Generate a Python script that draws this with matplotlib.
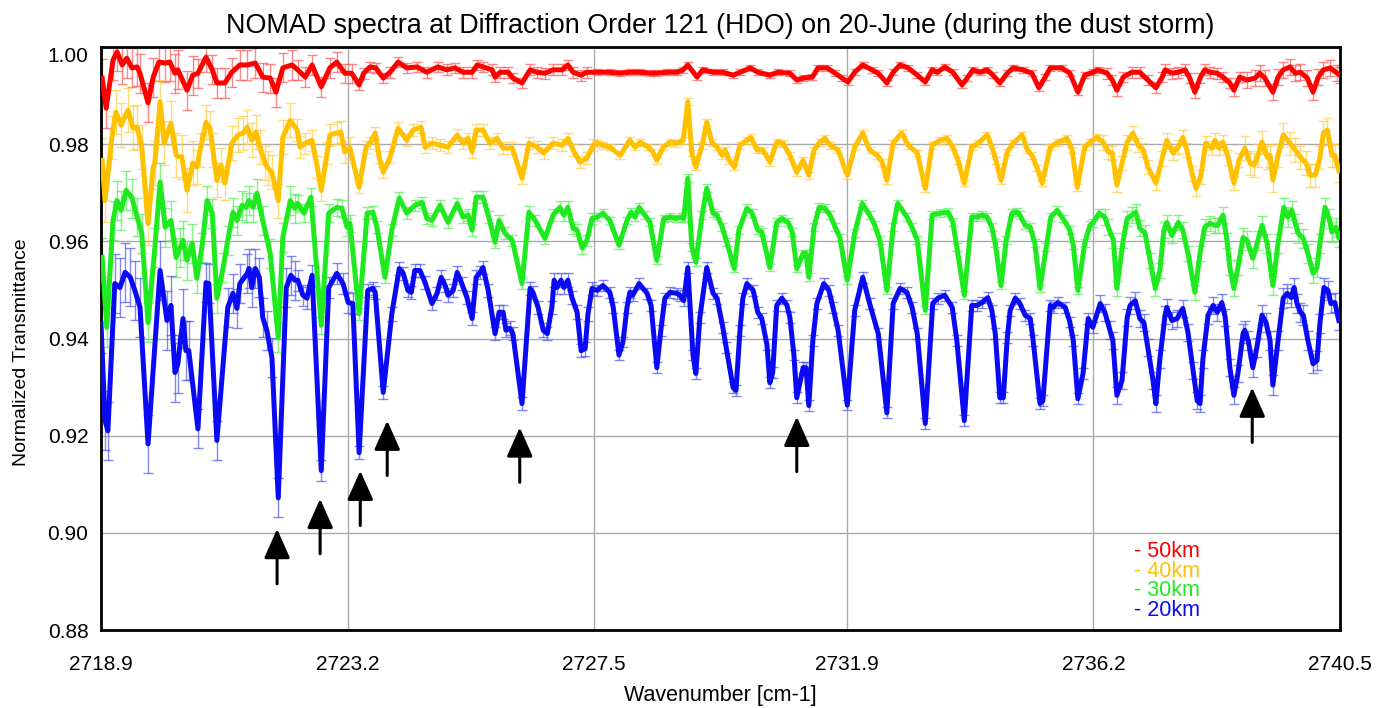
import numpy as np
import matplotlib
matplotlib.use("Agg")
import matplotlib.pyplot as plt

# ---------------- data (wavenumber, normalized transmittance) ----------------
red_pts = [(2718.92,0.9936),(2718.99,0.9874),(2719.11,0.9973),(2719.18,0.9990),(2719.27,0.9963),(2719.35,0.9977),(2719.44,0.9957),(2719.53,0.9959),(2719.58,0.9946),(2719.72,0.9885),(2719.81,0.9938),(2719.91,0.9969),(2720.02,0.9967),(2720.10,0.9969),(2720.19,0.9946),(2720.24,0.9953),(2720.40,0.9911),(2720.50,0.9942),(2720.59,0.9946),(2720.73,0.9979),(2720.84,0.9953),(2720.92,0.9926),(2721.06,0.9926),(2721.18,0.9948),(2721.32,0.9963),(2721.45,0.9963),(2721.59,0.9967),(2721.72,0.9938),(2721.85,0.9936),(2721.95,0.9907),(2722.07,0.9957),(2722.23,0.9963),(2722.33,0.9953),(2722.46,0.9938),(2722.58,0.9963),(2722.74,0.9918),(2722.89,0.9957),(2723.01,0.9969),(2723.15,0.9946),(2723.27,0.9946),(2723.40,0.9922),(2723.48,0.9946),(2723.59,0.9959),(2723.69,0.9957),(2723.82,0.9936),(2723.94,0.9948),(2724.08,0.9969),(2724.23,0.9957),(2724.41,0.9959),(2724.58,0.9948),(2724.77,0.9959),(2724.93,0.9953),(2725.07,0.9957),(2725.21,0.9948),(2725.37,0.9948),(2725.46,0.9963),(2725.56,0.9959),(2725.72,0.9953),(2725.77,0.9938),(2725.86,0.9948),(2726.00,0.9948),(2726.08,0.9936),(2726.24,0.9926),(2726.38,0.9953),(2726.50,0.9948),(2726.64,0.9946),(2726.78,0.9953),(2726.94,0.9953),(2727.04,0.9963),(2727.13,0.9948),(2727.27,0.9942),(2727.37,0.9948),(2727.56,0.9948),(2727.77,0.9948),(2727.95,0.9946),(2728.12,0.9948),(2728.30,0.9948),(2728.47,0.9946),(2728.59,0.9946),(2728.77,0.9948),(2728.94,0.9948),(2729.05,0.9953),(2729.13,0.9963),(2729.29,0.9938),(2729.39,0.9953),(2729.57,0.9948),(2729.74,0.9948),(2729.92,0.9942),(2730.04,0.9948),(2730.22,0.9957),(2730.35,0.9948),(2730.56,0.9942),(2730.70,0.9948),(2730.91,0.9946),(2731.03,0.9932),(2731.14,0.9936),(2731.30,0.9938),(2731.40,0.9957),(2731.56,0.9957),(2731.70,0.9946),(2731.82,0.9936),(2731.92,0.9928),(2732.04,0.9948),(2732.18,0.9963),(2732.34,0.9953),(2732.45,0.9946),(2732.60,0.9926),(2732.71,0.9948),(2732.83,0.9963),(2732.97,0.9957),(2733.13,0.9942),(2733.27,0.9928),(2733.39,0.9953),(2733.48,0.9948),(2733.61,0.9959),(2733.75,0.9948),(2733.91,0.9922),(2734.00,0.9936),(2734.10,0.9953),(2734.22,0.9948),(2734.35,0.9953),(2734.45,0.9942),(2734.57,0.9926),(2734.70,0.9946),(2734.80,0.9957),(2734.97,0.9953),(2735.13,0.9946),(2735.25,0.9916),(2735.36,0.9938),(2735.45,0.9957),(2735.65,0.9957),(2735.79,0.9946),(2735.93,0.9907),(2736.05,0.9942),(2736.19,0.9948),(2736.28,0.9953),(2736.44,0.9946),(2736.53,0.9932),(2736.61,0.9911),(2736.72,0.9938),(2736.87,0.9948),(2737.01,0.9948),(2737.15,0.9932),(2737.29,0.9916),(2737.40,0.9938),(2737.45,0.9953),(2737.57,0.9946),(2737.68,0.9948),(2737.80,0.9953),(2737.88,0.9936),(2737.97,0.9907),(2738.06,0.9936),(2738.14,0.9953),(2738.23,0.9948),(2738.36,0.9946),(2738.46,0.9938),(2738.58,0.9926),(2738.65,0.9911),(2738.75,0.9938),(2738.88,0.9932),(2739.02,0.9936),(2739.10,0.9946),(2739.19,0.9936),(2739.33,0.9907),(2739.42,0.9938),(2739.51,0.9953),(2739.63,0.9959),(2739.72,0.9946),(2739.81,0.9948),(2739.93,0.9936),(2740.03,0.9907),(2740.12,0.9938),(2740.21,0.9953),(2740.33,0.9957),(2740.45,0.9946),(2740.50,0.9942)]

orange_pts = [(2718.92,0.9767),(2718.97,0.9684),(2719.09,0.9814),(2719.16,0.9866),(2719.25,0.9839),(2719.37,0.9870),(2719.46,0.9833),(2719.53,0.9835),(2719.61,0.9794),(2719.72,0.9637),(2719.81,0.9753),(2719.84,0.9761),(2719.93,0.9887),(2720.00,0.9802),(2720.12,0.9843),(2720.21,0.9777),(2720.31,0.9773),(2720.40,0.9705),(2720.50,0.9761),(2720.57,0.9753),(2720.63,0.9788),(2720.73,0.9845),(2720.80,0.9833),(2720.85,0.9788),(2720.92,0.9726),(2720.99,0.9757),(2721.06,0.9720),(2721.18,0.9802),(2721.29,0.9819),(2721.38,0.9823),(2721.45,0.9835),(2721.53,0.9808),(2721.60,0.9825),(2721.67,0.9794),(2721.76,0.9761),(2721.81,0.9751),(2721.88,0.9742),(2721.99,0.9684),(2722.07,0.9814),(2722.20,0.9849),(2722.32,0.9829),(2722.37,0.9794),(2722.46,0.9802),(2722.58,0.9808),(2722.67,0.9753),(2722.74,0.9705),(2722.84,0.9782),(2722.89,0.9819),(2723.01,0.9823),(2723.08,0.9825),(2723.15,0.9784),(2723.24,0.9792),(2723.40,0.9711),(2723.52,0.9794),(2723.59,0.9802),(2723.68,0.9823),(2723.75,0.9773),(2723.82,0.9742),(2723.94,0.9773),(2724.08,0.9833),(2724.23,0.9808),(2724.34,0.9829),(2724.48,0.9835),(2724.55,0.9794),(2724.67,0.9802),(2724.81,0.9798),(2724.95,0.9794),(2725.11,0.9819),(2725.21,0.9802),(2725.30,0.9812),(2725.37,0.9784),(2725.44,0.9829),(2725.56,0.9829),(2725.68,0.9802),(2725.80,0.9812),(2725.91,0.9792),(2726.07,0.9792),(2726.24,0.9730),(2726.36,0.9802),(2726.50,0.9794),(2726.62,0.9782),(2726.78,0.9802),(2726.94,0.9798),(2727.04,0.9812),(2727.13,0.9788),(2727.25,0.9763),(2727.37,0.9771),(2727.48,0.9798),(2727.55,0.9802),(2727.65,0.9798),(2727.77,0.9794),(2727.95,0.9777),(2728.12,0.9808),(2728.21,0.9794),(2728.30,0.9804),(2728.44,0.9794),(2728.52,0.9784),(2728.59,0.9767),(2728.70,0.9794),(2728.82,0.9804),(2728.92,0.9802),(2729.05,0.9808),(2729.13,0.9887),(2729.20,0.9782),(2729.27,0.9753),(2729.38,0.9798),(2729.46,0.9845),(2729.55,0.9804),(2729.64,0.9794),(2729.73,0.9777),(2729.78,0.9788),(2729.85,0.9767),(2729.94,0.9753),(2730.04,0.9798),(2730.16,0.9808),(2730.23,0.9814),(2730.34,0.9788),(2730.44,0.9788),(2730.56,0.9763),(2730.68,0.9804),(2730.79,0.9802),(2730.91,0.9777),(2731.03,0.9742),(2731.14,0.9767),(2731.24,0.9736),(2731.33,0.9788),(2731.43,0.9804),(2731.52,0.9812),(2731.61,0.9798),(2731.75,0.9788),(2731.91,0.9736),(2732.04,0.9794),(2732.18,0.9823),(2732.30,0.9788),(2732.43,0.9777),(2732.52,0.9763),(2732.60,0.9726),(2732.71,0.9802),(2732.86,0.9823),(2732.97,0.9798),(2733.13,0.9782),(2733.27,0.9709),(2733.39,0.9798),(2733.53,0.9808),(2733.65,0.9812),(2733.75,0.9794),(2733.84,0.9767),(2733.95,0.9720),(2734.08,0.9794),(2734.19,0.9802),(2734.35,0.9819),(2734.45,0.9788),(2734.50,0.9767),(2734.59,0.9726),(2734.70,0.9784),(2734.80,0.9802),(2734.96,0.9819),(2735.05,0.9788),(2735.13,0.9777),(2735.22,0.9751),(2735.31,0.9720),(2735.45,0.9794),(2735.58,0.9804),(2735.74,0.9812),(2735.83,0.9788),(2735.92,0.9711),(2736.05,0.9794),(2736.14,0.9804),(2736.26,0.9814),(2736.37,0.9804),(2736.46,0.9784),(2736.53,0.9782),(2736.61,0.9716),(2736.70,0.9761),(2736.79,0.9804),(2736.89,0.9823),(2736.98,0.9798),(2737.07,0.9788),(2737.15,0.9753),(2737.29,0.9720),(2737.40,0.9771),(2737.48,0.9808),(2737.59,0.9782),(2737.68,0.9794),(2737.76,0.9814),(2737.83,0.9788),(2737.92,0.9740),(2737.99,0.9709),(2738.07,0.9732),(2738.16,0.9802),(2738.27,0.9792),(2738.32,0.9808),(2738.39,0.9792),(2738.46,0.9804),(2738.55,0.9773),(2738.65,0.9720),(2738.74,0.9767),(2738.84,0.9792),(2738.93,0.9761),(2739.00,0.9757),(2739.07,0.9777),(2739.14,0.9804),(2739.23,0.9773),(2739.28,0.9777),(2739.33,0.9726),(2739.42,0.9777),(2739.51,0.9819),(2739.63,0.9802),(2739.72,0.9788),(2739.81,0.9773),(2739.91,0.9761),(2739.98,0.9736),(2740.07,0.9736),(2740.15,0.9773),(2740.21,0.9823),(2740.28,0.9829),(2740.36,0.9777),(2740.41,0.9777),(2740.48,0.9746)]

green_pts = [(2718.92,0.9567),(2719.00,0.9423),(2719.11,0.9643),(2719.18,0.9684),(2719.25,0.9664),(2719.34,0.9705),(2719.44,0.9689),(2719.53,0.9650),(2719.61,0.9617),(2719.72,0.9433),(2719.84,0.9588),(2719.93,0.9722),(2720.02,0.9629),(2720.12,0.9643),(2720.21,0.9567),(2720.28,0.9588),(2720.33,0.9602),(2720.40,0.9561),(2720.49,0.9596),(2720.57,0.9524),(2720.66,0.9588),(2720.75,0.9684),(2720.84,0.9658),(2720.92,0.9483),(2721.03,0.9546),(2721.11,0.9602),(2721.20,0.9660),(2721.27,0.9643),(2721.36,0.9674),(2721.43,0.9670),(2721.48,0.9684),(2721.55,0.9670),(2721.62,0.9699),(2721.72,0.9643),(2721.85,0.9575),(2721.99,0.9402),(2722.07,0.9608),(2722.20,0.9684),(2722.28,0.9668),(2722.33,0.9678),(2722.44,0.9658),(2722.56,0.9691),(2722.74,0.9427),(2722.87,0.9658),(2723.01,0.9670),(2723.10,0.9668),(2723.19,0.9629),(2723.24,0.9637),(2723.40,0.9451),(2723.54,0.9658),(2723.64,0.9660),(2723.71,0.9629),(2723.85,0.9526),(2723.97,0.9623),(2724.10,0.9689),(2724.23,0.9658),(2724.37,0.9674),(2724.50,0.9680),(2724.58,0.9647),(2724.67,0.9643),(2724.81,0.9674),(2724.95,0.9639),(2725.11,0.9678),(2725.21,0.9650),(2725.30,0.9654),(2725.37,0.9623),(2725.44,0.9691),(2725.56,0.9691),(2725.66,0.9650),(2725.77,0.9598),(2725.84,0.9643),(2725.94,0.9617),(2726.07,0.9602),(2726.24,0.9513),(2726.36,0.9660),(2726.47,0.9643),(2726.64,0.9606),(2726.78,0.9654),(2726.90,0.9670),(2726.97,0.9654),(2727.04,0.9670),(2727.13,0.9627),(2727.20,0.9623),(2727.29,0.9586),(2727.37,0.9602),(2727.46,0.9647),(2727.55,0.9650),(2727.65,0.9658),(2727.77,0.9643),(2727.93,0.9592),(2728.07,0.9643),(2728.14,0.9660),(2728.21,0.9650),(2728.28,0.9670),(2728.38,0.9654),(2728.47,0.9639),(2728.59,0.9561),(2728.71,0.9647),(2728.82,0.9650),(2728.92,0.9647),(2729.03,0.9650),(2729.06,0.9647),(2729.13,0.9730),(2729.20,0.9588),(2729.27,0.9557),(2729.38,0.9654),(2729.46,0.9709),(2729.57,0.9658),(2729.64,0.9654),(2729.73,0.9629),(2729.81,0.9598),(2729.94,0.9544),(2730.02,0.9623),(2730.16,0.9668),(2730.25,0.9658),(2730.35,0.9623),(2730.42,0.9619),(2730.56,0.9546),(2730.68,0.9639),(2730.77,0.9647),(2730.88,0.9639),(2730.95,0.9619),(2731.03,0.9544),(2731.14,0.9575),(2731.19,0.9575),(2731.24,0.9526),(2731.33,0.9629),(2731.42,0.9670),(2731.52,0.9668),(2731.61,0.9654),(2731.70,0.9629),(2731.78,0.9608),(2731.91,0.9520),(2732.04,0.9617),(2732.17,0.9678),(2732.30,0.9654),(2732.39,0.9633),(2732.48,0.9602),(2732.60,0.9499),(2732.71,0.9629),(2732.79,0.9678),(2732.95,0.9650),(2733.04,0.9629),(2733.13,0.9602),(2733.27,0.9458),(2733.39,0.9654),(2733.53,0.9658),(2733.67,0.9660),(2733.75,0.9639),(2733.82,0.9588),(2733.95,0.9489),(2734.08,0.9650),(2734.17,0.9650),(2734.26,0.9654),(2734.35,0.9650),(2734.43,0.9629),(2734.49,0.9596),(2734.59,0.9509),(2734.68,0.9602),(2734.78,0.9658),(2734.87,0.9660),(2734.92,0.9654),(2735.01,0.9633),(2735.10,0.9629),(2735.18,0.9596),(2735.27,0.9503),(2735.38,0.9588),(2735.46,0.9650),(2735.57,0.9664),(2735.67,0.9647),(2735.79,0.9623),(2735.85,0.9592),(2735.93,0.9499),(2736.05,0.9596),(2736.14,0.9633),(2736.19,0.9637),(2736.30,0.9658),(2736.40,0.9650),(2736.46,0.9629),(2736.55,0.9602),(2736.61,0.9503),(2736.72,0.9602),(2736.79,0.9647),(2736.87,0.9654),(2736.94,0.9660),(2737.01,0.9627),(2737.10,0.9617),(2737.19,0.9561),(2737.28,0.9503),(2737.36,0.9540),(2737.43,0.9623),(2737.48,0.9639),(2737.57,0.9612),(2737.68,0.9639),(2737.76,0.9623),(2737.85,0.9575),(2737.97,0.9495),(2738.06,0.9575),(2738.14,0.9629),(2738.23,0.9637),(2738.32,0.9633),(2738.37,0.9633),(2738.46,0.9654),(2738.53,0.9602),(2738.58,0.9546),(2738.65,0.9503),(2738.72,0.9546),(2738.81,0.9608),(2738.88,0.9602),(2738.98,0.9565),(2739.07,0.9602),(2739.14,0.9633),(2739.23,0.9596),(2739.33,0.9509),(2739.42,0.9596),(2739.52,0.9670),(2739.59,0.9650),(2739.66,0.9664),(2739.72,0.9637),(2739.77,0.9617),(2739.86,0.9606),(2739.94,0.9575),(2740.03,0.9534),(2740.10,0.9546),(2740.15,0.9596),(2740.24,0.9670),(2740.31,0.9647),(2740.36,0.9619),(2740.43,0.9629),(2740.48,0.9608)]

blue_pts = [(2718.90,0.9431),(2718.97,0.9231),(2719.02,0.9210),(2719.14,0.9513),(2719.23,0.9505),(2719.32,0.9536),(2719.41,0.9526),(2719.49,0.9499),(2719.58,0.9464),(2719.72,0.9183),(2719.93,0.9540),(2720.05,0.9437),(2720.12,0.9468),(2720.19,0.9330),(2720.24,0.9348),(2720.33,0.9441),(2720.38,0.9375),(2720.43,0.9375),(2720.59,0.9214),(2720.73,0.9515),(2720.78,0.9513),(2720.92,0.9190),(2721.11,0.9464),(2721.20,0.9493),(2721.27,0.9462),(2721.32,0.9513),(2721.45,0.9534),(2721.48,0.9544),(2721.53,0.9505),(2721.59,0.9544),(2721.66,0.9526),(2721.72,0.9443),(2721.79,0.9417),(2721.88,0.9361),(2721.99,0.9072),(2722.13,0.9505),(2722.21,0.9530),(2722.28,0.9520),(2722.33,0.9520),(2722.42,0.9489),(2722.49,0.9483),(2722.58,0.9530),(2722.74,0.9128),(2722.87,0.9505),(2723.01,0.9534),(2723.12,0.9513),(2723.21,0.9474),(2723.29,0.9472),(2723.40,0.9165),(2723.55,0.9499),(2723.64,0.9503),(2723.68,0.9495),(2723.82,0.9289),(2723.97,0.9451),(2724.10,0.9544),(2724.17,0.9534),(2724.25,0.9499),(2724.31,0.9495),(2724.37,0.9540),(2724.46,0.9540),(2724.55,0.9515),(2724.67,0.9472),(2724.76,0.9493),(2724.83,0.9526),(2724.90,0.9509),(2724.95,0.9489),(2725.04,0.9499),(2725.11,0.9536),(2725.19,0.9513),(2725.28,0.9484),(2725.37,0.9441),(2725.44,0.9526),(2725.51,0.9536),(2725.56,0.9546),(2725.65,0.9499),(2725.77,0.9410),(2725.84,0.9454),(2725.91,0.9454),(2725.96,0.9417),(2726.03,0.9421),(2726.08,0.9410),(2726.24,0.9266),(2726.38,0.9503),(2726.43,0.9495),(2726.52,0.9464),(2726.61,0.9417),(2726.68,0.9410),(2726.76,0.9464),(2726.80,0.9520),(2726.85,0.9505),(2726.92,0.9520),(2726.97,0.9505),(2727.04,0.9520),(2727.11,0.9484),(2727.20,0.9454),(2727.27,0.9375),(2727.34,0.9379),(2727.39,0.9451),(2727.46,0.9503),(2727.55,0.9499),(2727.65,0.9509),(2727.77,0.9495),(2727.83,0.9464),(2727.93,0.9366),(2728.00,0.9393),(2728.07,0.9464),(2728.12,0.9495),(2728.17,0.9489),(2728.28,0.9513),(2728.42,0.9493),(2728.49,0.9468),(2728.59,0.9340),(2728.66,0.9417),(2728.73,0.9483),(2728.82,0.9495),(2728.94,0.9493),(2728.99,0.9489),(2729.06,0.9478),(2729.13,0.9546),(2729.22,0.9366),(2729.27,0.9328),(2729.34,0.9443),(2729.46,0.9546),(2729.57,0.9493),(2729.64,0.9483),(2729.74,0.9423),(2729.80,0.9381),(2729.92,0.9299),(2729.97,0.9293),(2730.04,0.9417),(2730.09,0.9483),(2730.16,0.9513),(2730.27,0.9499),(2730.35,0.9454),(2730.42,0.9441),(2730.51,0.9387),(2730.56,0.9309),(2730.61,0.9330),(2730.68,0.9468),(2730.77,0.9483),(2730.86,0.9468),(2730.91,0.9443),(2730.98,0.9366),(2731.03,0.9278),(2731.14,0.9340),(2731.19,0.9340),(2731.24,0.9262),(2731.31,0.9396),(2731.38,0.9472),(2731.50,0.9513),(2731.59,0.9499),(2731.66,0.9464),(2731.75,0.9417),(2731.91,0.9263),(2732.04,0.9458),(2732.18,0.9526),(2732.30,0.9472),(2732.45,0.9410),(2732.60,0.9247),(2732.71,0.9472),(2732.83,0.9503),(2732.95,0.9495),(2733.04,0.9464),(2733.13,0.9410),(2733.27,0.9225),(2733.40,0.9472),(2733.49,0.9483),(2733.61,0.9489),(2733.74,0.9464),(2733.82,0.9396),(2733.95,0.9231),(2734.08,0.9468),(2734.17,0.9468),(2734.26,0.9474),(2734.36,0.9484),(2734.43,0.9458),(2734.49,0.9410),(2734.57,0.9278),(2734.63,0.9278),(2734.70,0.9402),(2734.75,0.9458),(2734.84,0.9483),(2734.92,0.9472),(2735.01,0.9448),(2735.10,0.9441),(2735.15,0.9396),(2735.27,0.9266),(2735.32,0.9272),(2735.45,0.9468),(2735.50,0.9464),(2735.58,0.9474),(2735.71,0.9464),(2735.79,0.9434),(2735.85,0.9396),(2735.93,0.9276),(2736.02,0.9328),(2736.11,0.9441),(2736.19,0.9423),(2736.32,0.9472),(2736.40,0.9454),(2736.49,0.9417),(2736.54,0.9396),(2736.61,0.9283),(2736.70,0.9314),(2736.79,0.9443),(2736.84,0.9468),(2736.93,0.9478),(2737.01,0.9441),(2737.08,0.9433),(2737.15,0.9381),(2737.24,0.9314),(2737.29,0.9266),(2737.36,0.9358),(2737.45,0.9448),(2737.48,0.9464),(2737.57,0.9437),(2737.66,0.9441),(2737.76,0.9462),(2737.85,0.9412),(2737.94,0.9334),(2738.01,0.9272),(2738.06,0.9266),(2738.11,0.9358),(2738.20,0.9448),(2738.29,0.9468),(2738.36,0.9454),(2738.44,0.9474),(2738.50,0.9443),(2738.58,0.9340),(2738.65,0.9283),(2738.72,0.9328),(2738.81,0.9410),(2738.84,0.9417),(2738.90,0.9396),(2738.98,0.9340),(2739.05,0.9381),(2739.14,0.9448),(2739.21,0.9433),(2739.28,0.9396),(2739.33,0.9304),(2739.42,0.9396),(2739.51,0.9483),(2739.58,0.9493),(2739.65,0.9484),(2739.70,0.9505),(2739.75,0.9472),(2739.81,0.9454),(2739.86,0.9448),(2739.94,0.9396),(2740.03,0.9348),(2740.10,0.9355),(2740.15,0.9431),(2740.22,0.9505),(2740.29,0.9499),(2740.34,0.9472),(2740.41,0.9474),(2740.48,0.9437)]

# error-bar half widths, read per wavenumber band
err_edges = [2720.5, 2722.3, 2723.3, 2727.5, 2736.3, 2738.8]
red_err = [0.0040, 0.0030, 0.0020, 0.0011, 0.0006, 0.0011, 0.0016]
orange_err = [0.0045, 0.0035, 0.0022, 0.0012, 0.0007, 0.0015, 0.0024]
green_err = [0.0040, 0.0030, 0.0018, 0.0012, 0.0008, 0.0016, 0.0020]
blue_err = [0.0060, 0.0040, 0.0022, 0.0014, 0.0011, 0.0018, 0.0020]

series_labels = ["- 50km", "- 40km", "- 30km", "- 20km"]

arrow_x = [2721.97, 2722.72, 2723.42, 2723.89, 2726.20, 2731.03, 2738.97]
arrow_tip = [0.9008, 0.9070, 0.9128, 0.9231, 0.9217, 0.9239, 0.9299]

x_ticks = [2718.9, 2723.2, 2727.5, 2731.9, 2736.2, 2740.5]
y_ticks = [0.88, 0.90, 0.92, 0.94, 0.96, 0.98, 1.00]

title = "NOMAD spectra at Diffraction Order 121 (HDO) on 20-June (during the dust storm)"
xlabel = "Wavenumber [cm-1]"
ylabel = "Normalized Transmittance"

# ---------------- style ----------------
plt.rcParams['font.family'] = ['Liberation Sans', 'DejaVu Sans']
line_colors = ["#FF0000", "#FFC000", "#1FEA1F", "#0A0AF5"]
err_colors = ["#FF5555", "#FFCC44", "#55EE55", "#4A55F5"]
ARROW_LEN = 0.0113

fig = plt.figure(figsize=(13.88, 7.08), dpi=100)
ax = fig.add_axes([101/1388, 1-630/708, (1340-101)/1388, (630-47)/708])

all_pts = [red_pts, orange_pts, green_pts, blue_pts]
all_err = [red_err, orange_err, green_err, blue_err]

for pts, errs, lc, ec in zip(all_pts, all_err, line_colors, err_colors):
    x = np.array([p[0] for p in pts])
    y = np.array([p[1] for p in pts])
    e = np.array(errs)[np.searchsorted(err_edges, x)]
    ax.errorbar(x, y, yerr=e, fmt='none', ecolor=ec, elinewidth=1.0,
                capsize=3.8, capthick=1.0, alpha=0.7, zorder=2)
    ax.plot(x, y, color=lc, lw=3.6, zorder=3, solid_joinstyle='round')

for xa, ya in zip(arrow_x, arrow_tip):
    ax.annotate('', xy=(xa, ya), xytext=(xa, ya - ARROW_LEN),
                arrowprops=dict(arrowstyle='-|>,head_length=0.9,head_width=0.4',
                                mutation_scale=20, lw=2.2, color='black',
                                shrinkA=0, shrinkB=0), zorder=5)

ax.set_xlim(2718.9, 2740.5)
ax.set_ylim(0.88, 1.0)
ax.set_xticks(x_ticks)
ax.set_xticklabels([f"{v:.1f}" for v in x_ticks])
ax.set_yticks(y_ticks)
ax.set_yticklabels([f"{v:.2f}" for v in y_ticks])
ax.grid(True, color='#AAAAAA', lw=1.0)
ax.set_axisbelow(True)
ax.tick_params(axis='both', length=0, labelsize=15)
ax.tick_params(axis='x', pad=18)
ax.tick_params(axis='y', pad=9)
ax.get_yticklabels()[-1].set_verticalalignment('top')
for s in ax.spines.values():
    s.set_linewidth(2.0)
    s.set_color('black')

ax.set_title(title, fontsize=19.4, pad=10)
ax.set_xlabel(xlabel, fontsize=15.5, labelpad=8)
ax.set_ylabel(ylabel, fontsize=14)
ax.yaxis.set_label_coords(-0.057, 0.476)

for i, (lab, col) in enumerate(zip(series_labels, line_colors)):
    ax.text(0.834, 0.134 - i*0.0335, lab, color=col, fontsize=15.5,
            transform=ax.transAxes, ha='left', va='center')

fig.savefig("out.png", dpi=100)
